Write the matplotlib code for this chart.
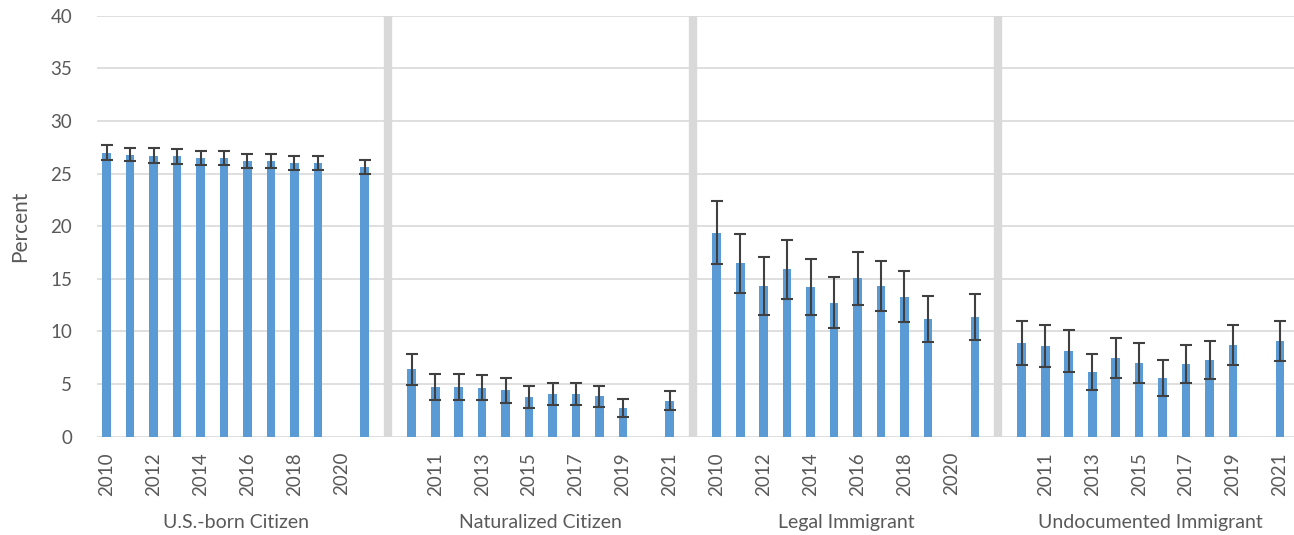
import matplotlib.pyplot as plt
import numpy as np

plt.rcParams['font.family'] = ['Lato', 'DejaVu Sans']

# years per group (2020 missing from the data)
years = [2010, 2011, 2012, 2013, 2014, 2015, 2016, 2017, 2018, 2019, 2020, 2021]
groups = ['U.S.-born Citizen', 'Naturalized Citizen', 'Legal Immigrant', 'Undocumented Immigrant']

# percent values, None for 2020
us_born = [27.0, 26.8, 26.7, 26.65, 26.5, 26.45, 26.2, 26.2, 26.0, 26.0, None, 25.6]
us_born_err = [0.7, 0.65, 0.7, 0.7, 0.65, 0.65, 0.65, 0.65, 0.65, 0.65, None, 0.65]

naturalized = [6.4, 4.75, 4.75, 4.65, 4.4, 3.8, 4.05, 4.1, 3.85, 2.75, None, 3.4]
naturalized_err = [1.45, 1.25, 1.25, 1.2, 1.15, 1.05, 1.05, 1.05, 1.0, 0.85, None, 0.9]

legal = [19.4, 16.5, 14.35, 15.9, 14.25, 12.75, 15.05, 14.3, 13.3, 11.2, None, 11.35]
legal_err = [3.0, 2.8, 2.75, 2.8, 2.65, 2.4, 2.5, 2.4, 2.4, 2.2, None, 2.2]

undocumented = [8.9, 8.65, 8.15, 6.15, 7.45, 7.05, 5.6, 6.9, 7.25, 8.7, None, 9.1]
undocumented_err = [2.1, 2.0, 2.0, 1.7, 1.9, 1.9, 1.7, 1.8, 1.8, 1.9, None, 1.9]

all_vals = [us_born, naturalized, legal, undocumented]
all_errs = [us_born_err, naturalized_err, legal_err, undocumented_err]

text_color = '#595959'
bar_color = '#5b9bd5'

fig = plt.figure(figsize=(12.94, 5.35), dpi=100)
ax = fig.add_axes([0.075, 0.1837, 0.925, 0.787])

slots = len(years) + 1  # one blank slot between groups
tick_pos = []
tick_lab = []
for g in range(len(groups)):
    xs, vs, es = [], [], []
    for i, yr in enumerate(years):
        pos = g * slots + i
        if all_vals[g][i] is not None:
            xs.append(pos)
            vs.append(all_vals[g][i])
            es.append(all_errs[g][i])
        if pos % 2 == 0:
            tick_pos.append(pos)
            tick_lab.append(str(yr))
    ax.bar(xs, vs, width=0.37, color=bar_color, zorder=3)
    ax.errorbar(xs, vs, yerr=es, fmt='none', ecolor='#404040', elinewidth=1.5,
                capsize=4, capthick=1.5, zorder=4)
    center = g * slots + (len(years) - 1) / 2
    ax.text(center, -0.203, groups[g], transform=ax.get_xaxis_transform(),
            ha='center', va='center', fontsize=14, color=text_color)
    if g > 0:
        ax.axvline(g * slots - 1, color='#d9d9d9', linewidth=6, zorder=2)

ax.set_xlim(-0.41, 4 * slots - 1 - 0.4)
ax.set_ylim(0, 40)
ax.set_yticks(np.arange(0, 41, 5))
ax.set_xticks(tick_pos)
ax.set_xticklabels(tick_lab, rotation=90)
ax.tick_params(axis='x', length=0, pad=11, labelsize=13.5, labelcolor=text_color)
ax.tick_params(axis='y', length=0, pad=18, labelsize=13.5, labelcolor=text_color)
ax.yaxis.grid(True, color='#d9d9d9', linewidth=1.2, zorder=0)
ax.set_axisbelow(True)
for s in ax.spines.values():
    s.set_visible(False)
ax.set_ylabel('Percent', fontsize=15, color=text_color, labelpad=14)

fig.savefig('out.png', dpi=100)
